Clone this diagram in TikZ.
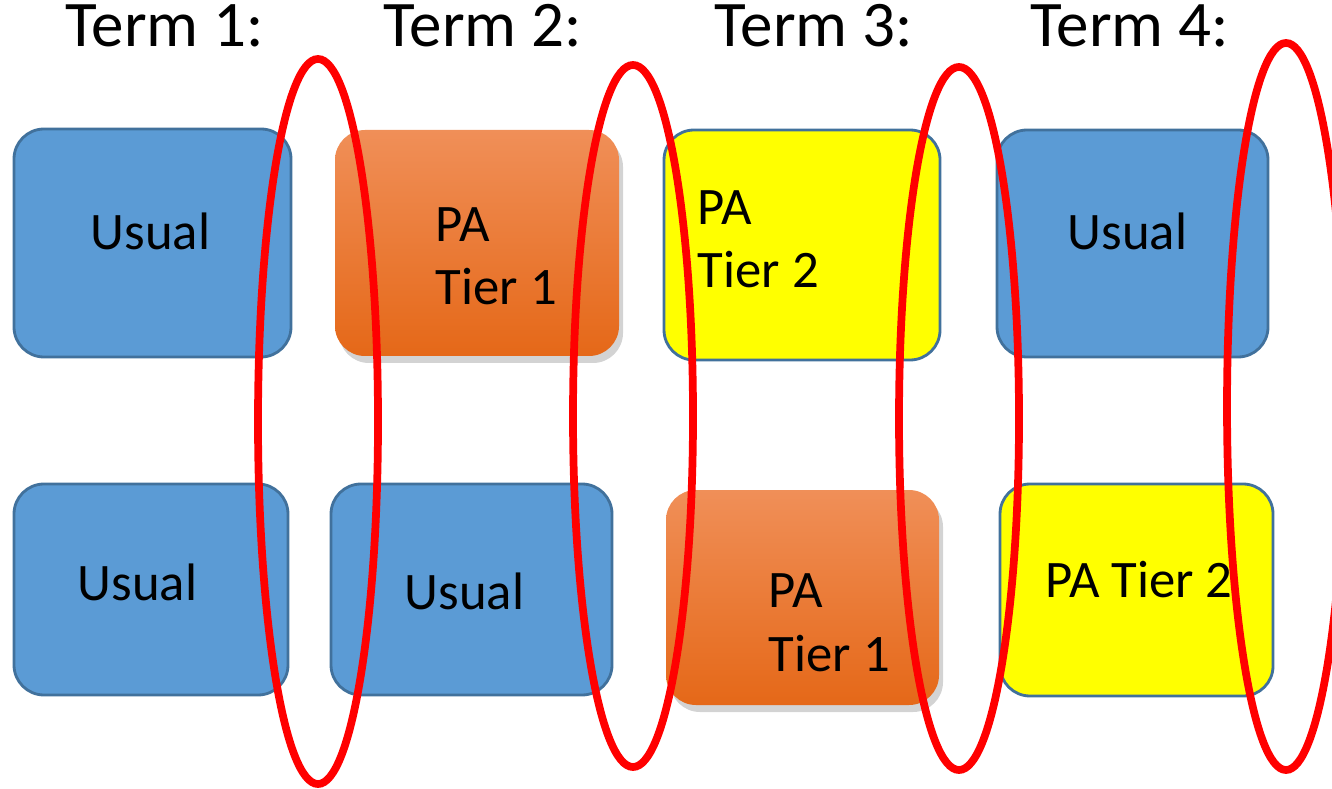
\documentclass[tikz,border=0pt]{standalone}
\usepackage{fontspec}
\setmainfont{Carlito}
\usetikzlibrary{shadows}
\definecolor{usualblue}{RGB}{91,155,213}
\definecolor{edgeblue}{RGB}{65,113,156}
\definecolor{paltop}{RGB}{240,143,88}
\definecolor{palbot}{RGB}{229,104,24}
\definecolor{tieryellow}{RGB}{255,255,0}
\tikzset{
  box/.style = {rectangle, rounded corners=3mm, inner sep=0pt},
  usual/.style = {box, draw=edgeblue, line width=0.8pt, fill=usualblue},
  tierone/.style = {box, top color=paltop, bottom color=palbot,
    drop shadow={shadow xshift=0.4mm, shadow yshift=-0.7mm, opacity=0.35}},
  tiertwo/.style = {box, draw=edgeblue, line width=0.8pt, fill=tieryellow},
  term/.style = {anchor=base west, inner sep=0pt, font=\fontsize{18.5}{22}\selectfont},
  lbl/.style = {anchor=base west, inner sep=0pt, align=left,
    font=\fontsize{15}{18}\selectfont},
  group/.style = {draw=red, line width=2.2pt}
}

\begin{document}
\begin{tikzpicture}
  \useasboundingbox (0,0) rectangle (13.32,7.88);
  % terms
  \node[term] (t1) at (0.65,7.41)  {Term 1:};
  \node[term] (t2) at (3.83,7.41)  {Term 2:};
  \node[term] (t3) at (7.14,7.41)  {Term 3:};
  \node[term] (t4) at (10.30,7.41) {Term 4:};
  % top row
  \node[usual,   minimum width=2.77cm, minimum height=2.28cm] (a) at (1.525,5.45)  {};
  \node[tierone, minimum width=2.84cm, minimum height=2.26cm] (b) at (4.77,5.45)   {};
  \node[tiertwo, minimum width=2.76cm, minimum height=2.30cm] (c) at (8.02,5.43)   {};
  \node[usual,   minimum width=2.71cm, minimum height=2.27cm] (d) at (11.325,5.445) {};
  % bottom row
  \node[usual,   minimum width=2.74cm, minimum height=2.11cm] (e) at (1.51,1.985)  {};
  \node[usual,   minimum width=2.81cm, minimum height=2.11cm] (f) at (4.715,1.985) {};
  \node[tierone, minimum width=2.73cm, minimum height=2.15cm] (g) at (8.025,1.905) {};
  \node[tiertwo, minimum width=2.73cm, minimum height=2.12cm] (h) at (11.365,1.98) {};
  % texts (two-line ones sit on their last line)
  \node[lbl] (la) at (0.90,5.38)  {Usual};
  \node[lbl] (lb) at (4.35,4.83)  {PA\\Tier 1};
  \node[lbl] (lc) at (6.97,5.00)  {PA\\Tier 2};
  \node[lbl] (ld) at (10.67,5.38) {Usual};
  \node[lbl] (le) at (0.77,1.88)  {Usual};
  \node[lbl] (lf) at (4.04,1.79)  {Usual};
  \node[lbl] (lg) at (7.68,1.17)  {PA\\Tier 1};
  \node[lbl] (lh) at (10.45,1.91) {PA Tier 2};
  % groups
  \draw[group] (3.18,3.665) ellipse (0.60 and 3.625);
  \draw[group] (6.33,3.72)  ellipse (0.60 and 3.51);
  \draw[group] (9.59,3.695) ellipse (0.60 and 3.515);
  \draw[group] (12.86,3.815) ellipse (0.59 and 3.635);
\end{tikzpicture}
\end{document}
